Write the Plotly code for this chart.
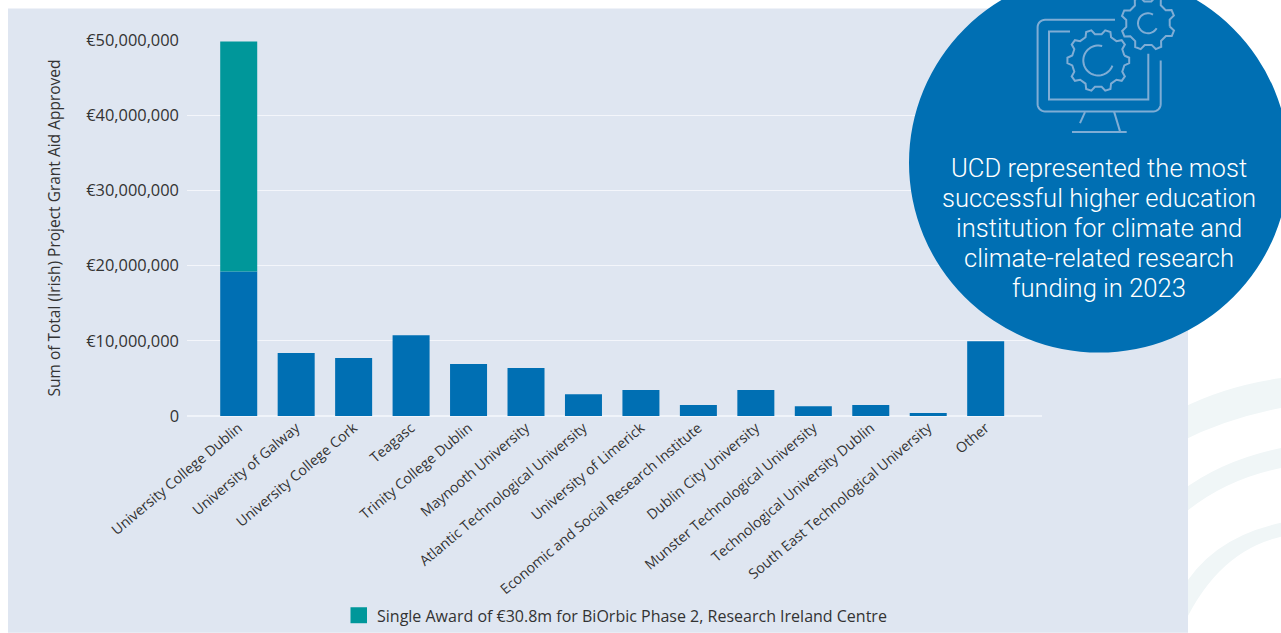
import math
import plotly.graph_objects as go

categories = ["University College Dublin", "University of Galway", "University College Cork", "Teagasc",
              "Trinity College Dublin", "Maynooth University", "Atlantic Technological University",
              "University of Limerick", "Economic and Social Research Institute", "Dublin City University",
              "Munster Technological University", "Technological University Dublin",
              "South East Technological University", "Other"]
grant_aid = [19200000, 8370000, 7700000, 10750000, 6900000, 6370000, 2900000,
             3450000, 1450000, 3450000, 1300000, 1450000, 400000, 9950000]
limerick_negative = [None, None, None, None, None, None, None, -130000, None, None, None, None, None, None]
single_award = [30600000, None, None, None, None, None, None, None, None, None, None, None, None, None]
legend_label = "Single Award of €30.8m for BiOrbic Phase 2, Research Ireland Centre"
y_title = "Sum of Total (Irish) Project Grant Aid Approved"
callout_lines = ["UCD represented the most", "successful higher education",
                 "institution for climate and", "climate-related research", "funding in 2023"]

W, H = 1281, 633
L, R, T, B = 187, 1042, 39.5, 416
BLUE, TEAL, PANEL, ICON = "#006fb3", "#00979a", "#dfe6f1", "#7fadd5"
FONT = "Open Sans"


def px(x):
    return (x - L) / (R - L)


def py(y):
    return (B - y) / (B - T)


def P(x, y):
    return f"{px(x):.5f},{py(y):.5f}"


def line_path(points):
    return "M" + " L".join(P(x, y) for x, y in points)


def arc_points(cx, cy, r, a0, a1, n=40):
    return [(cx + r * math.cos(math.radians(a0 + (a1 - a0) * i / n)),
             cy + r * math.sin(math.radians(a0 + (a1 - a0) * i / n))) for i in range(n + 1)]


def gear_points(cx, cy, r_out, r_in, teeth, rot=0):
    pts = []
    step = 360 / teeth
    for i in range(teeth):
        a = rot + i * step
        for da, r in [(-0.3, r_in), (-0.14, r_out), (0.14, r_out), (0.3, r_in)]:
            t = math.radians(a + da * step)
            pts.append((cx + r * math.cos(t), cy + r * math.sin(t)))
    pts.append(pts[0])
    return pts


shapes = []


def band(x0, y0_top, y1_top, y0_bot, y1_bot, cx_top, cy_top, cx_bot, cy_bot):
    path = (f"M{P(x0, y0_top)} Q{P(cx_top, cy_top)} {P(1281, y1_top)} "
            f"L{P(1281, y1_bot)} Q{P(cx_bot, cy_bot)} {P(x0, y0_bot)} Z")
    shapes.append(dict(type="path", xref="paper", yref="paper", layer="below", path=path,
                       fillcolor="#f0f6f7", line_width=0))


band(1180, 409, 378, 442, 408, 1225, 386, 1225, 419)
band(1180, 492, 448, 517, 468, 1222, 460, 1222, 480)
band(1180, 593, 523, 633, 537, 1210, 538, 1215, 552)
shapes.append(dict(type="rect", xref="paper", yref="paper", layer="below",
                   x0=px(8), x1=px(1188), y0=py(633), y1=py(8), fillcolor=PANEL, line_width=0))
shapes.append(dict(type="circle", xref="paper", yref="paper", layer="above",
                   x0=px(909), x1=px(1289), y0=py(352.5), y1=py(-27.5), fillcolor=BLUE, line_width=0))
shapes.append(dict(type="rect", xref="paper", yref="paper", layer="above",
                   x0=px(350.5), x1=px(367), y0=py(623.5), y1=py(607.5), fillcolor=TEAL, line_width=0))

monitor_paths = [
    [(1115, 19.3), (1045, 19.3)] + arc_points(1045, 26.7, 7.4, 270, 180, 8)[1:] +
    arc_points(1045, 103.6, 7.4, 180, 90, 8) + arc_points(1153.3, 103.6, 7.4, 90, 0, 8) + [(1160.7, 60)],
    [(1070, 31), (1049, 31), (1049, 99), (1148.3, 99), (1148.3, 53.3)],
    [(1085, 111.7), (1080, 122.7)],
    [(1114, 111), (1120, 131)],
    [(1072, 131.7), (1126.7, 131.7)],
    gear_points(1098.3, 60, 31, 26.5, 10, 0),
    gear_points(1148, 22.7, 27, 22, 8, 22),
    arc_points(1098.3, 60, 15, -75, -340),
    arc_points(1148, 22.7, 10, -60, -330),
]
for pts in monitor_paths:
    shapes.append(dict(type="path", xref="paper", yref="paper", layer="above", path=line_path(pts),
                       line=dict(color=ICON, width=2)))

annotations = [dict(x=px(1099), y=py(168 + 30 * i), xref="paper", yref="paper", text=t, showarrow=False,
                    xanchor="center", yanchor="middle",
                    font=dict(family="Roboto", size=25.6, color="#ffffff", weight=300))
               for i, t in enumerate(callout_lines)]

fig = go.Figure()
fig.add_bar(x=categories, y=grant_aid, marker=dict(color=BLUE, line_width=0), showlegend=False, name="Grant aid")
fig.add_bar(x=categories, y=limerick_negative, marker=dict(color=BLUE, line_width=0), showlegend=False, name="Adjustment")
fig.add_bar(x=categories, y=single_award, marker=dict(color=TEAL, line_width=0), name=legend_label)
fig.update_layout(
    width=W, height=H, autosize=False, barmode="relative", bargap=0.356,
    margin=dict(l=L, r=W - R, t=T, b=H - B, pad=0, autoexpand=False),
    paper_bgcolor="#ffffff", plot_bgcolor="rgba(0,0,0,0)",
    font=dict(family=FONT, size=15, color="#333333"),
    showlegend=True,
    legend=dict(x=px(337), y=py(616), xanchor="left", yanchor="middle", bgcolor="rgba(0,0,0,0)",
                font=dict(size=16, color="#333333"), itemclick=False),
    shapes=shapes, annotations=annotations,
    xaxis=dict(type="category", categoryorder="array", categoryarray=categories, range=[-0.9, 13.98],
               tickangle=-40, showgrid=False, ticks="", tickfont=dict(size=14.2), showline=False, automargin=False),
    yaxis=dict(range=[0, 50000000], tickvals=[0, 10000000, 20000000, 30000000, 40000000, 50000000],
               ticktext=["0", "€10,000,000", "€20,000,000", "€30,000,000", "€40,000,000", "€50,000,000"],
               gridcolor="#f4f6fb", gridwidth=1, zeroline=True, zerolinecolor="#f0f4fa", zerolinewidth=2,
               ticks="", ticklabelstandoff=7, tickfont=dict(size=16.4), automargin=False,
               title=dict(text=y_title, font=dict(size=15.5), standoff=21)),
)
fig.write_html("out.html", post_script="document.body.style.margin='0';document.body.style.overflow='hidden';",
               config={"displayModeBar": False})
